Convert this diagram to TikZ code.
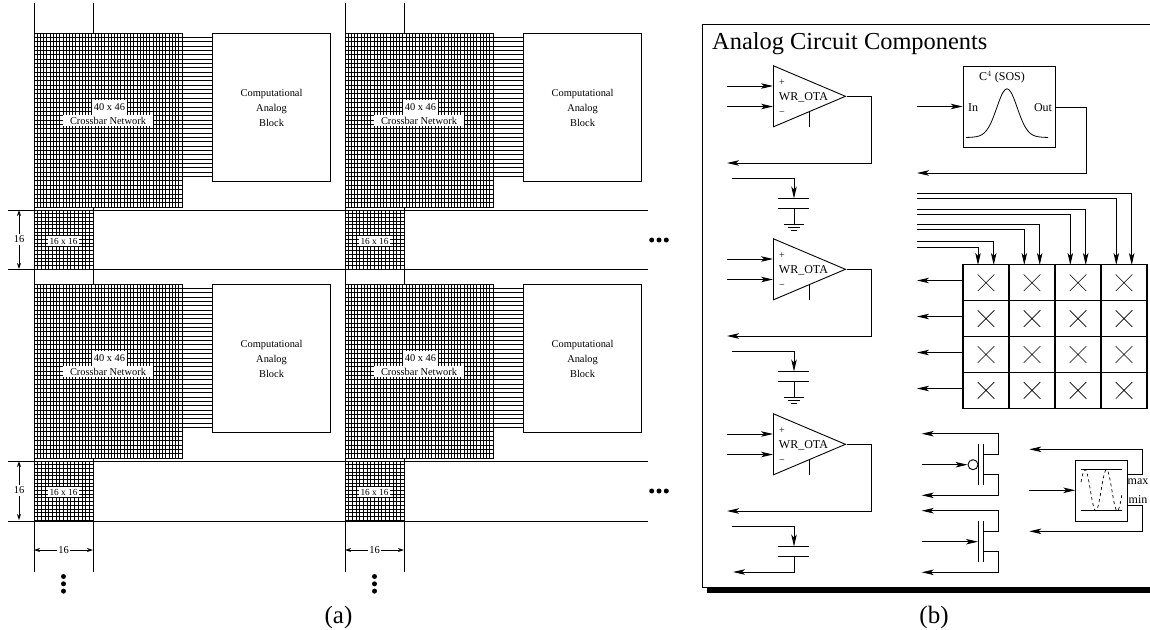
\documentclass[tikz,border=0pt]{standalone}
\usepackage{fontspec}
\setmainfont{Liberation Serif}
\usetikzlibrary{arrows.meta, shapes.geometric, shapes.misc}
\tikzset{
  xbar/.style  = {rectangle, draw, line width=1.2pt, inner sep=0pt},
  cab/.style   = {rectangle, draw, fill=white, line width=1.1pt, inner sep=0pt,
                  minimum width=118pt, minimum height=148pt, align=center,
                  font=\fontsize{10.4}{15}\selectfont},
  xlab/.style  = {fill=white, inner sep=0pt, font=\fontsize{10.4}{11}\selectfont},
  gridl/.style = {line width=0.85pt},
  bus/.style   = {line width=0.9pt},
  wire/.style  = {line width=0.9pt},
  dim/.style   = {line width=0.9pt, {Stealth[length=6pt,width=4pt]}-{Stealth[length=6pt,width=4pt]}},
  dimlab/.style= {fill=white, inner sep=1.5pt, font=\fontsize{10.5}{11}\selectfont},
  bigdot/.style= {circle, fill=black, inner sep=0pt, minimum size=5pt},
  ota/.style   = {isosceles triangle, draw, line width=0.9pt, inner sep=0pt,
                  isosceles triangle stretches, shape border rotate=0,
                  minimum width=61pt, minimum height=72pt},
  lab/.style   = {inner sep=0pt, font=\fontsize{12}{14}\selectfont},
  cell/.style  = {rectangle, draw, line width=1.1pt, inner sep=0pt,
                  minimum width=46pt, minimum height=36pt},
  xmark/.style = {cross out, draw, line width=0.6pt, inner sep=0pt, minimum size=16pt},
  box/.style   = {rectangle, draw, line width=1pt, inner sep=0pt},
  >={Stealth[length=12pt,width=5.5pt,inset=3pt]}
}

\begin{document}
\begin{tikzpicture}[x=1pt, y=-1pt]
\useasboundingbox (0,0) rectangle (1150,629);

% ── Row rails across (a) ─────────────────────────────────────────────────
\foreach \n/\yy in {a/210, b/269, c/461, d/521}{
  \coordinate (rl-\n) at (8,\yy);
  \coordinate (rr-\n) at (648,\yy);
  \draw[bus] (rl-\n) -- (rr-\n);
}

% ── Column rails ─────────────────────────────────────────────────────────
\foreach \n/\xx in {a/34, b/93, c/345, d/404}{
  \coordinate (ct-\n) at (\xx,3);
  \coordinate (cb-\n) at (\xx,572);
  \draw[bus] (ct-\n) -- (cb-\n);
}

% ── Tiles: crossbar, analog block, switch box ────────────────────────────
\foreach \n/\xx/\yy in {1/34/33, 2/345/33, 3/34/284, 4/345/284}{
  \node[xbar, fill=white, minimum width=148pt, minimum height=174pt, anchor=north west]
    (xb\n) at (\xx,\yy) {};
  \node[xbar, fill=white, minimum width=59pt, minimum height=59pt, anchor=north west]
    (sb\n) at (\xx,\yy+177) {};
  \node[cab, anchor=north west] (ab\n) at (\xx+178,\yy) {Computational\\Analog\\Block};
  \begin{scope}[shift={(\xx,\yy)}]
    \foreach \k in {1,...,45}
      \draw[gridl] (\k*3.217,0) -- (\k*3.217,174);
    \foreach \k in {1,...,39}
      \draw[gridl] (0,\k*4.35) -- (148,\k*4.35);
    \foreach \k in {1,...,15}{
      \draw[gridl] (\k*3.69,177) -- (\k*3.69,236);
      \draw[gridl] (0,177+\k*3.69) -- (59,177+\k*3.69);
    }
    \foreach \k in {1,...,33}{
      \coordinate (cw) at (0,\k*4.35);
      \draw[gridl] (xb\n.east |- cw) -- (ab\n.west |- cw);
    }
    \node[xlab, minimum width=35pt, minimum height=15pt] (xt\n) at (75.5,74.5) {40 x 46};
    \node[xlab, minimum width=90pt, minimum height=11pt] (xs\n) at (74,87.5) {Crossbar Network};
    \node[xlab, minimum width=31pt, minimum height=10pt, font=\fontsize{9.3}{10}\selectfont] (st\n) at (29.5,208) {16 x 16};
  \end{scope}
}

% ── Dimensions ───────────────────────────────────────────────────────────
\foreach \n/\yy in {1/210, 2/461}{
  \coordinate (dt\n) at (19,\yy);
  \coordinate (db\n) at (19,\yy+59);
  \draw[dim] (dt\n) -- node[dimlab] (dv\n) {16} (db\n);
}
\foreach \n/\xx in {1/34, 2/345}{
  \coordinate (dl\n) at (\xx,550);
  \coordinate (dr\n) at (\xx+59,550);
  \draw[dim] (dl\n) -- node[dimlab] (dh\n) {16} (dr\n);
  \foreach \k in {0,1,2}
    \node[bigdot] (vd\n\k) at (\xx+29.5,576.5+\k*7.3) {};
}
\foreach \n/\yy in {1/240, 2/491}
  \foreach \k in {0,1,2}
    \node[bigdot] (hd\n\k) at (651.7+\k*7.3,\yy) {};

\node[font=\fontsize{25}{26}\selectfont, inner sep=0pt, anchor=base] (capa) at (338.5,623) {(a)};
\node[font=\fontsize{25}{26}\selectfont, inner sep=0pt, anchor=base] (capb) at (934,623) {(b)};

% ── Panel (b) frame ──────────────────────────────────────────────────────
\coordinate (ftr) at (1150,24.5);
\coordinate (ftl) at (702,24.5);
\coordinate (fbl) at (702,587.5);
\coordinate (fbr) at (707,587.5);
\draw[line width=1pt] (ftr) -- (ftl) -- (fbl) -- (fbr);
\fill (707,587) rectangle (1150,593);
\node[anchor=base west, inner sep=0pt, font=\fontsize{24.4}{26}\selectfont] (title) at (712,49) {Analog Circuit Components};

% ── OTAs ─────────────────────────────────────────────────────────────────
\foreach \n/\dy in {1/0, 2/173, 3/348}{
  \begin{scope}[shift={(0,\dy)}]
    \node[ota, anchor=lower side] (ota\n) at (773,96.3) {};
    \coordinate (ia\n) at (727,86);
    \coordinate (ib\n) at (727,106.5);
    \coordinate (oe\n) at (727,163);
    \coordinate (ok\n) at (871,163);
    \coordinate (bs\n) at (809,112);
    \coordinate (be\n) at (809,126.7);
    \draw[wire, ->] (ia\n) -- (ia\n -| ota\n.lower side);
    \draw[wire, ->] (ib\n) -- (ib\n -| ota\n.lower side);
    \draw[wire] (bs\n) -- (be\n);
    \draw[wire, ->] (ota\n.apex) -| (ok\n) -- (oe\n);
    \node[lab] (tx\n) at (803.5,97) {WR\_OTA};
    \node[lab, font=\fontsize{10}{11}\selectfont] (pl\n) at (782,82.5) {+};
    \node[lab, font=\fontsize{10}{11}\selectfont] (mi\n) at (782,113.5) {−};
    % capacitor
    \coordinate (cw\n) at (732,178);
    \coordinate (ca\n) at (794,198.5);
    \coordinate (cc\n) at (794,208.7);
    \draw[wire, ->] (cw\n) -| (ca\n);
    \draw[wire] (778,198.5) -- (809,198.5);
    \draw[wire] (778,208.7) -- (809,208.7);
  \end{scope}
}
\foreach \n/\dy in {1/0, 2/173}{
  \begin{scope}[shift={(0,\dy)}]
    \coordinate (gn\n) at (794,224);
    \draw[wire] (cc\n) -- (gn\n);
    \draw[wire] (784,224) -- (804,224);
    \draw[wire] (788,227.3) -- (800,227.3);
    \draw[wire] (791,230.6) -- (797,230.6);
  \end{scope}
}
\coordinate (cl3) at (733,572);
\draw[wire, ->] (cc3) |- (cl3);

% ── C4 block ─────────────────────────────────────────────────────────────
\node[box, minimum width=92.5pt, minimum height=81.5pt, anchor=north west] (sos) at (962.7,65.7) {};
\coordinate (si) at (917,106.5);
\coordinate (sk) at (1086,173);
\coordinate (se) at (917,173);
\draw[wire, ->] (si) -- (si -| sos.west);
\draw[wire, ->] (sos.east) -| (sk) -- (se);
\node[lab] (sost) at (1002,77) {C$^4$ (SOS)};
\node[lab] (sosi) at (973,108) {In};
\node[lab] (soso) at (1043,108) {Out};
\draw[line width=0.8pt] plot[smooth, domain=-41:41, samples=41]
  (1007+\x, {137.5-47.5*exp(-(\x/14.5)*(\x/14.5)/1.0)-1.2*(41-abs(\x))/41});

% ── Crossbar array ───────────────────────────────────────────────────────
\foreach \r in {0,...,3}{
  \foreach \c in {0,...,3}{
    \node[cell] (cl\r\c) at (986+\c*46,282.7+\r*35.9) {};
    \node[xmark] (xm\r\c) at (cl\r\c) {};
  }
  \coordinate (ro\r) at (917,280.5+\r*36);
  \draw[wire, ->] (ro\r -| cl\r0.west) -- (ro\r);
}
\foreach \yy/\xx/\c in {193.3/1131.7/3, 198.7/1116.3/3, 209/1085.7/2, 214/1070.3/2,
                        224.3/1039.7/1, 229.3/1024.3/1, 241.7/993.7/0, 247/978/0}{
  \coordinate (cs) at (917,\yy);
  \coordinate (cd) at (\xx,265);
  \draw[wire, ->] (cs) -| (cd);
}

% ── Transistors ──────────────────────────────────────────────────────────
\foreach \n/\dy in {p/0, n/77}{
  \begin{scope}[shift={(0,\dy)}]
    \coordinate (gt\n) at (978,444);
    \coordinate (gb\n) at (978,485);
    \coordinate (ct\n) at (983,444);
    \coordinate (cb\n) at (983,485);
    \coordinate (st\n) at (983,454.3);
    \coordinate (sb\n) at (983,474.3);
    \coordinate (sr\n) at (998.7,433.7);
    \coordinate (dr\n) at (998.7,495.3);
    \coordinate (ol\n) at (921.7,433.7);
    \coordinate (ml\n) at (921.7,495.3);
    \coordinate (il\n) at (922,464.7);
    \draw[wire] (gt\n) -- (gb\n);
    \draw[wire] (ct\n) -- (cb\n);
    \draw[wire, ->] (st\n) -| (sr\n) -- (ol\n);
    \draw[wire, ->] (sb\n) -| (dr\n) -- (ml\n);
  \end{scope}
}
\node[circle, draw, line width=0.9pt, inner sep=0pt, minimum size=10pt] (bub) at (973,464.7) {};
\draw[wire, ->] (ilp) -- (bub.west);
\coordinate (gin) at (978,541.7);
\draw[wire, ->] (iln) -- (gin);

% ── Max/min block ────────────────────────────────────────────────────────
\node[box, minimum width=51.4pt, minimum height=61.3pt, anchor=north west] (mm) at (1075.3,459.7) {};
\coordinate (mi) at (1029.3,490.3);
\draw[wire, ->] (mi) -- (mi -| mm.west);
\coordinate (ma) at (1126.7,474.7);
\coordinate (mk) at (1142,449.3);
\coordinate (me) at (1029.3,449.3);
\draw[wire, ->] (ma) -| (mk) -- (me);
\coordinate (na) at (1126.7,505.7);
\coordinate (nk) at (1142,531.3);
\coordinate (ne) at (1029.3,531.3);
\draw[wire, ->] (na) -| (nk) -- (ne);
\draw[wire] (1080.7,469.7) -- (1121.7,469.7);
\draw[wire] (1080.7,510.7) -- (1121.7,510.7);
\draw[line width=0.7pt, dash pattern=on 3pt off 3pt] plot[smooth, domain=1081:1122, samples=60]
  (\x, {490.2-20.5*cos((\x-1085)/21.5*360)});
\node[lab] (mxl) at (1138,481.7) {max};
\node[lab] (mnl) at (1138,499.7) {min};

\end{tikzpicture}
\end{document}
